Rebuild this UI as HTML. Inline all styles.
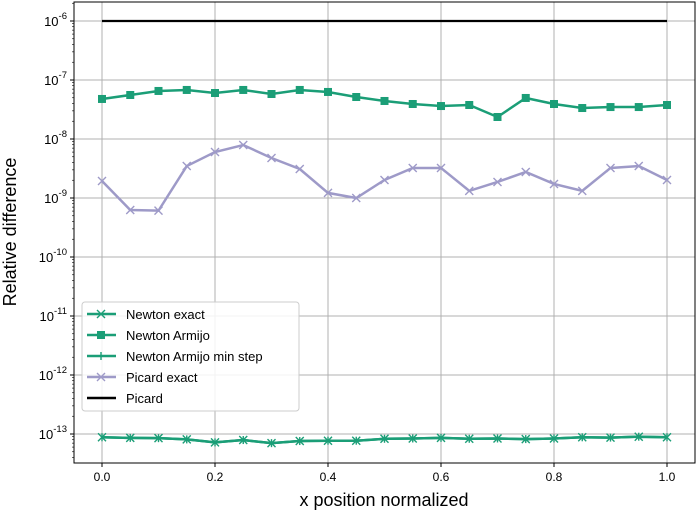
<!DOCTYPE html>
<html><head><meta charset="utf-8"><style>
body{margin:0;background:#fff}
svg{font-family:"Liberation Sans","DejaVu Sans",sans-serif}
</style></head><body>
<svg id="chart" width="697" height="511" xmlns="http://www.w3.org/2000/svg"></svg>
<script>
const xValues=[0,0.05,0.1,0.15,0.2,0.25,0.3,0.35,0.4,0.45,0.5,0.55,0.6,0.65,0.7,0.75,0.8,0.85,0.9,0.95,1.0];
const newtonExact=[8.8e-14,8.6e-14,8.5e-14,8.1e-14,7.2e-14,7.9e-14,7.0e-14,7.6e-14,7.7e-14,7.7e-14,8.3e-14,8.4e-14,8.6e-14,8.3e-14,8.4e-14,8.2e-14,8.4e-14,8.8e-14,8.7e-14,9.0e-14,8.8e-14];
const newtonArmijo=[4.77e-8,5.57e-8,6.52e-8,6.78e-8,6.02e-8,6.78e-8,5.79e-8,6.78e-8,6.27e-8,5.15e-8,4.41e-8,3.92e-8,3.62e-8,3.77e-8,2.36e-8,4.96e-8,3.92e-8,3.35e-8,3.48e-8,3.48e-8,3.77e-8];
const newtonArmijoMin=[8.8e-14,8.6e-14,8.5e-14,8.1e-14,7.2e-14,7.9e-14,7.0e-14,7.6e-14,7.7e-14,7.7e-14,8.3e-14,8.4e-14,8.6e-14,8.3e-14,8.4e-14,8.2e-14,8.4e-14,8.8e-14,8.7e-14,9.0e-14,8.8e-14];
const picardExact=[1.94e-9,6.26e-10,6.1e-10,3.48e-9,6.02e-9,7.91e-9,4.76e-9,3.1e-9,1.22e-9,1.0e-9,2.02e-9,3.23e-9,3.23e-9,1.32e-9,1.87e-9,2.76e-9,1.73e-9,1.32e-9,3.23e-9,3.48e-9,2.02e-9];
const picard=[1e-6,1e-6,1e-6,1e-6,1e-6,1e-6,1e-6,1e-6,1e-6,1e-6,1e-6,1e-6,1e-6,1e-6,1e-6,1e-6,1e-6,1e-6,1e-6,1e-6,1e-6];
const xTicks=[0,0.2,0.4,0.6,0.8,1.0];
const xTickLabels=["0.0","0.2","0.4","0.6","0.8","1.0"];
const yTickExps=[-13,-12,-11,-10,-9,-8,-7,-6];

const L=74,R=695,T=2,B=463;
const X=v=>102+v*565;
const Y=v=>21+(-6-Math.log10(v))*59;
const NS="http://www.w3.org/2000/svg";
const svg=document.getElementById('chart');
function mk(tag,attrs,parent){const e=document.createElementNS(NS,tag);for(const k in attrs)e.setAttribute(k,attrs[k]);(parent||svg).appendChild(e);return e;}

xTicks.forEach((t,i)=>{
 const g=mk('line',{x1:X(t),x2:X(t),y1:T,y2:B,stroke:'#b0b0b0','stroke-width':1});
 
 
 const tk=mk('line',{x1:X(t),x2:X(t),y1:B,y2:B+4,stroke:'#000'});
 
 
 const tx=mk('text',{x:X(t),y:B+18,'font-size':12,'text-anchor':'middle'});
 tx.textContent=xTickLabels[i];
 
 
});
yTickExps.forEach(e=>{
 const y=Y(Math.pow(10,e));
 const g=mk('line',{x1:L,x2:R,y1:y,y2:y,stroke:'#b0b0b0','stroke-width':1});
 
 
 mk('line',{x1:L-4,x2:L,y1:y,y2:y,stroke:'#000'});
 const tx=mk('text',{x:L-7,y:y+5,'font-size':13,'text-anchor':'end'});
 tx.innerHTML='10<tspan dy="-7" font-size="9.5">'+e+'</tspan>';
 
 
});
for(let e=-14;e<=-6;e++){for(let m=2;m<=9;m++){const y=Y(m*Math.pow(10,e));if(y>T&&y<B)mk('line',{x1:L-2,x2:L,y1:y,y2:y,stroke:'#000','stroke-width':0.6});}}

function series(vals,color,marker,name,w){
 const g=mk('g',{});
 
 
 mk('polyline',{points:vals.map((v,i)=>X(xValues[i])+','+Y(v)).join(' '),fill:'none',stroke:color,'stroke-width':w},g);
 vals.forEach((v,i)=>{const x=X(xValues[i]),y=Y(v);drawMarker(g,marker,x,y,color);});
}
function drawMarker(g,m,x,y,c){
 if(m==='x'){mk('path',{d:`M${x-4},${y-4}L${x+4},${y+4}M${x-4},${y+4}L${x+4},${y-4}`,stroke:c,'stroke-width':1.4},g);}
 else if(m==='s'){mk('rect',{x:x-4,y:y-4,width:8,height:8,fill:c},g);}
 else if(m==='+'){mk('path',{d:`M${x},${y-4}L${x},${y+4}`,stroke:c,'stroke-width':1.4},g);}
}
series(picard,'#000','',"picard-line",2.2);
series(picardExact,'#9e9ac8','x',"picard-exact-line",2.5);
series(newtonArmijo,'#1b9e77','s',"newton-armijo-line",2.5);
series(newtonExact,'#1b9e77','x',"newton-exact-line",2.5);
series(newtonArmijoMin,'#1b9e77','+',"newton-armijo-min-step-line",2.5);

const fr=mk('rect',{x:L,y:T,width:R-L,height:B-T,fill:'none',stroke:'#000','stroke-width':1});



const lg=mk('g',{});


mk('rect',{x:82,y:302,width:217,height:109,rx:3,fill:'#fff','fill-opacity':0.85,stroke:'#ccc'},lg);
const entries=[["Newton exact",'#1b9e77','x'],["Newton Armijo",'#1b9e77','s'],["Newton Armijo min step",'#1b9e77','+'],["Picard exact",'#9e9ac8','x'],["Picard",'#000','']];
entries.forEach((en,i)=>{
 const y=314+i*21;
 const eg=mk('g',{},lg);
 
 
 mk('line',{x1:87,x2:116,y1:y,y2:y,stroke:en[1],'stroke-width':2.5},eg);
 drawMarker(eg,en[2],101,y,en[1]);
 const t=mk('text',{x:126,y:y+5,'font-size':13},eg);
 t.textContent=en[0];
});

const xl=mk('text',{x:384,y:506,'font-size':18,'text-anchor':'middle'});
xl.textContent='x position normalized';


const yl=mk('text',{x:16,y:232,'font-size':18,'text-anchor':'middle',transform:'rotate(-90 16 232)'});
yl.textContent='Relative difference';


</script>
</body></html>
